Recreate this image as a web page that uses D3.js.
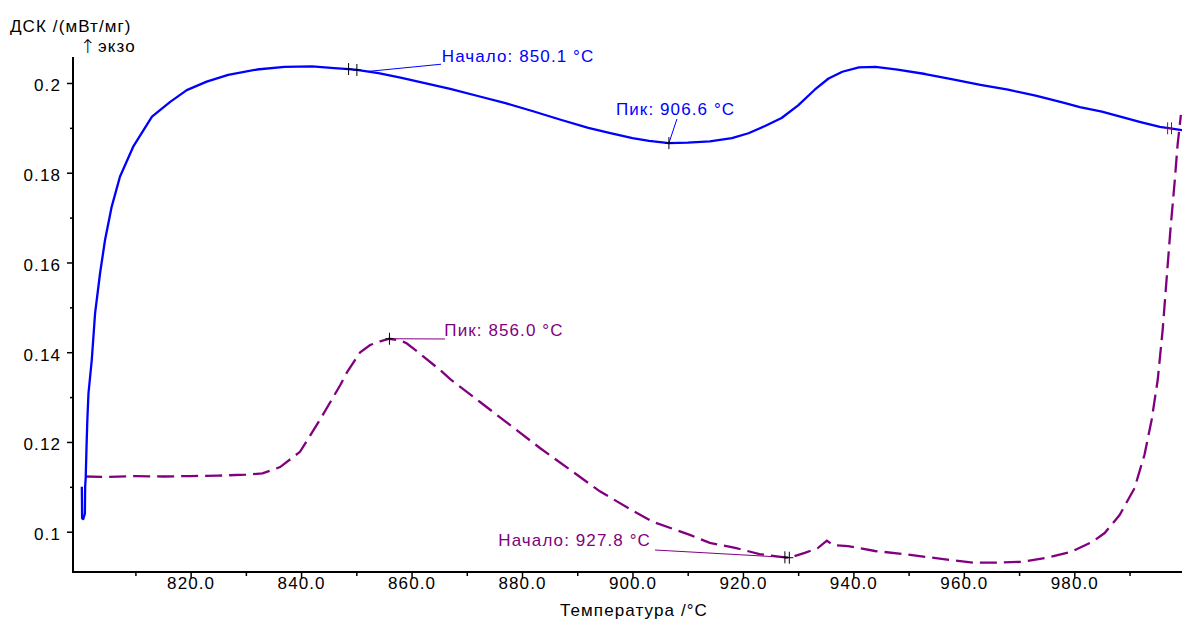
<!DOCTYPE html>
<html>
<head>
<meta charset="utf-8">
<script src="https://cdn.jsdelivr.net/npm/d3@7"></script>
<style>
html,body{margin:0;padding:0;background:#fff;}
svg{display:block;}
text{font-family:"Liberation Sans",Arial,sans-serif;}
</style>
</head>
<body>
<svg id="chart" width="1182" height="621"></svg>
<script>
// ---------- data ----------
const blueT = [800.3,800.35,800.55,800.85,800.9,801.0,801.15,801.3,801.5,802.1,802.7,803.6,804.5,805.7,807.2,809.6,813.0,816.3,819.3,822.9,826.8,832,837,842,846,848.6,850.1,854,858,862,867,872,877,882,887,892,896,900,903,906.6,910,914,918,921,924,927,930,933,935.5,938,941,944,948,953,958,963,968,973,978,981,985,988,992,995.5,999.5];
const blueV = [0.1100,0.1030,0.1028,0.1040,0.1100,0.1120,0.1190,0.1250,0.1308,0.1383,0.1487,0.1576,0.1650,0.1724,0.1791,0.1858,0.1925,0.1958,0.1984,0.2003,0.2018,0.2030,0.2036,0.2037,0.2033,0.2031,0.2029,0.2022,0.2012,0.2001,0.1987,0.1971,0.1955,0.1937,0.1918,0.1900,0.1888,0.1877,0.1871,0.1866,0.1867,0.1870,0.1877,0.1888,0.1904,0.1922,0.1950,0.1985,0.2010,0.2025,0.2035,0.2036,0.2030,0.2020,0.2008,0.1996,0.1985,0.1972,0.1956,0.1946,0.1936,0.1926,0.1913,0.1902,0.1895];

const purpleT = [800.9,805,810,815,820,825,830,833,836.2,839.8,843.4,847.1,848.3,850.7,852.5,854.3,856.0,858,859.1,861.4,865.2,867,872.4,877.8,883.3,888.7,894.1,899.6,903.7,910.4,914,918.6,923,927.6,928.4,931.2,933.5,935.2,936.3,939,943.9,949.3,953,957.6,961.8,966,970.7,975,979.4,983.2,985.5,988.2,990.9,992.7,994.0,995.1,996.0,996.7,997.4,998.2,998.7,999.3];
const purpleV = [0.1123,0.1122,0.1124,0.1123,0.1124,0.1125,0.1127,0.1130,0.1144,0.1178,0.1249,0.1327,0.1355,0.1400,0.1416,0.1424,0.1430,0.1426,0.1420,0.1398,0.1360,0.1340,0.1289,0.1238,0.1186,0.1138,0.1090,0.1050,0.1022,0.0993,0.0975,0.0964,0.0950,0.0943,0.0942,0.0953,0.0963,0.0980,0.0970,0.0968,0.0957,0.0950,0.0944,0.0937,0.0931,0.0931,0.0933,0.0942,0.0955,0.0977,0.0997,0.1037,0.1097,0.1171,0.1249,0.1338,0.1450,0.1561,0.1672,0.1784,0.1862,0.1929];

const xMajor = [820,840,860,880,900,920,940,960,980];
const xTickLabels = ["820.0","840.0","860.0","880.0","900.0","920.0","940.0","960.0","980.0"];
const xMinor = [810,830,850,870,890,910,930,950,970,990];
const yMajor = [0.1,0.12,0.14,0.16,0.18,0.2];
const yTickLabels = ["0.1","0.12","0.14","0.16","0.18","0.2"];
const yMinor = [0.11,0.13,0.15,0.17,0.19];

// annotations: marker temperatures, label text, label anchor (T, v), leader end (T, v)
const blueMarkT = [848.6, 850.1, 906.6];
const purpleMarkT = [856.0, 927.6, 928.4];
const endMarkT = [996.9, 997.6];
const endMarkV = [0.1899, 0.1899];
const annTexts = ["Начало: 850.1 °C","Пик: 906.6 °C","Пик: 856.0 °C","Начало: 927.8 °C"];
const annColors = ["#0000ff","#0000ff","#800080","#800080"];
const annLabelT = [865.47, 897.01, 865.94, 875.71];
const annLabelV = [0.20461, 0.19287, 0.14362, 0.09681];
const annFromT = [852.0, 906.6, 856.0, 927.6];
const annToT = [865.34, 908.05, 866.06, 904.07];
const annToV = [0.20418, 0.19197, 0.14295, 0.09592];
const annSeries = ["blue","blue","purple","purple"];

// ---------- scales ----------
const svg = d3.select("#chart");
const x = d3.scaleLinear().domain([798.7, 999.5]).range([73, 1182]);
const y = d3.scaleLinear().domain([0.09102, 0.20579]).range([572, 57]);
const FONT = "17px";
const LS = "1.1px";

const blueData = blueT.map((t,i)=>[t, blueV[i]]);
const purpleData = purpleT.map((t,i)=>[t, purpleV[i]]);
const interp = (data, t) => {
  for (let i=1;i<data.length;i++){
    if (t <= data[i][0]) {
      const a=data[i-1], b=data[i];
      return a[1] + (b[1]-a[1])*(t-a[0])/(b[0]-a[0]);
    }
  }
  return data[data.length-1][1];
};

// ---------- axes ----------
const gx = svg.append("g").attr("transform","translate(0,572)");
gx.call(d3.axisBottom(x).tickValues(xMajor).tickSize(6).tickPadding(4)
  .tickFormat((d,i)=>xTickLabels[i]));
gx.append("g").call(d3.axisBottom(x).tickValues(xMinor).tickSize(4).tickFormat(""))
  .select(".domain").remove();
gx.selectAll(".domain").remove();
gx.selectAll("line").attr("stroke","#000").attr("stroke-width",1.5);
gx.selectAll("text").attr("fill","#000").style("font-size",FONT).style("letter-spacing",LS)
  .attr("y",null).attr("dy",null).attr("transform","translate(0,16.9)");

const gy = svg.append("g").attr("transform","translate(73,0)");
gy.call(d3.axisLeft(y).tickValues(yMajor).tickSize(6).tickPadding(0)
  .tickFormat((d,i)=>yTickLabels[i]));
gy.append("g").call(d3.axisLeft(y).tickValues(yMinor).tickSize(3).tickFormat(""))
  .select(".domain").remove();
gy.selectAll(".domain").remove();
gy.selectAll("line").attr("stroke","#000").attr("stroke-width",1.5);
gy.selectAll("text").attr("fill","#000").style("font-size",FONT).style("letter-spacing",LS)
  .attr("x",-12).attr("dy",null).attr("y",7.8);

// axis lines
svg.append("line").attr("x1",x.range()[0]).attr("x2",x.range()[1]).attr("y1",572).attr("y2",572)
  .attr("stroke","#000").attr("stroke-width",2);
svg.append("line").attr("x1",73).attr("x2",73).attr("y1",y.range()[1]).attr("y2",573)
  .attr("stroke","#000").attr("stroke-width",2);

// axis titles
svg.append("text").attr("x",10).attr("y",31.7).text("ДСК /(мВт/мг)")
  .style("font-size",FONT).style("letter-spacing",LS).attr("fill","#000");
svg.append("text").attr("x",80).attr("y",53).text("↑")
  .style("font-family","DejaVu Sans").style("font-weight","200").style("font-size","19px").attr("fill","#000");
svg.append("text").attr("x",98).attr("y",51.7).text("экзо")
  .style("font-size",FONT).style("letter-spacing",LS).attr("fill","#000");
svg.append("text").attr("x",634).attr("y",616).attr("text-anchor","middle").text("Температура /°C")
  .style("font-size",FONT).style("letter-spacing",LS).attr("fill","#000");

// ---------- curves ----------
const line = d3.line().x(d=>x(d[0])).y(d=>y(d[1]));
svg.append("path").datum(purpleData).attr("d",line).attr("fill","none")
  .attr("stroke","#800080").attr("stroke-width",2.3).attr("stroke-dasharray","17,7");
svg.append("path").datum(blueData).attr("d",line).attr("fill","none")
  .attr("stroke","#0000ff").attr("stroke-width",2.3).attr("stroke-linejoin","round");

// ---------- annotations ----------
annTexts.forEach((t,i)=>{
  const data = annSeries[i]==="blue" ? blueData : purpleData;
  const fx = x(annFromT[i]), fy = y(interp(data, annFromT[i]));
  svg.append("line").attr("x1",fx).attr("y1",fy).attr("x2",x(annToT[i])).attr("y2",y(annToV[i]))
    .attr("stroke",annColors[i]).attr("stroke-width",1);
  svg.append("text").attr("x",x(annLabelT[i])).attr("y",y(annLabelV[i])).text(t)
    .attr("fill",annColors[i]).style("font-size",FONT).style("letter-spacing",LS);
});

function cross(cx, cy, hw, hh, col){
  svg.append("line").attr("x1",cx-hw).attr("x2",cx+hw).attr("y1",cy).attr("y2",cy)
    .attr("stroke",col).attr("stroke-width",1);
  svg.append("line").attr("x1",cx).attr("x2",cx).attr("y1",cy-hh).attr("y2",cy+hh)
    .attr("stroke",col).attr("stroke-width",1);
}
blueMarkT.forEach(t=>cross(x(t), y(interp(blueData,t)), 4, 6, "#000"));
purpleMarkT.forEach(t=>cross(x(t), y(interp(purpleData,t)), 4, 6, "#000"));
endMarkT.forEach((t,i)=>cross(x(t), y(endMarkV[i]), 2, 6, "#800080"));
</script>
</body>
</html>
